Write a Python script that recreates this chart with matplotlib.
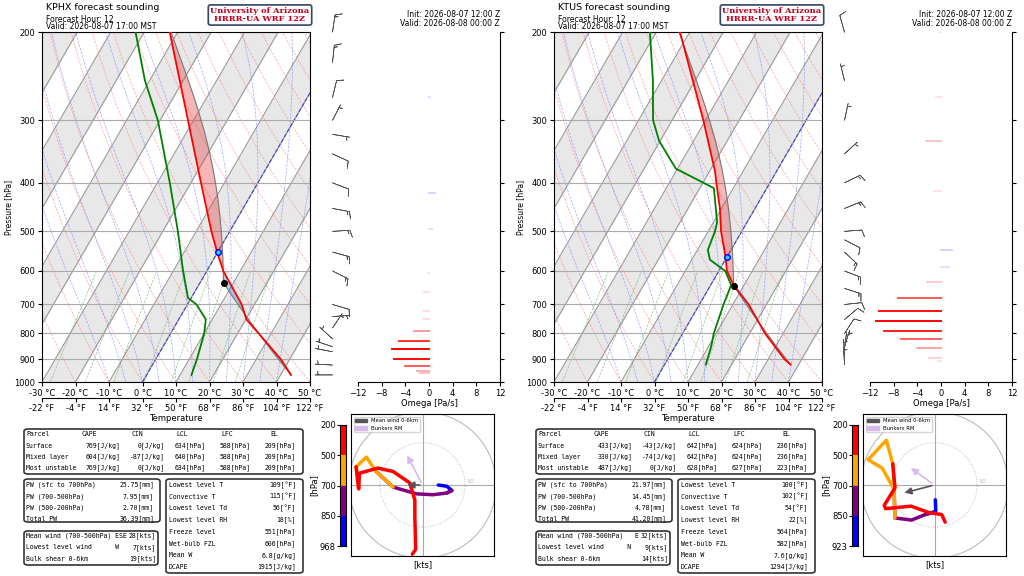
import numpy as np
import matplotlib
matplotlib.use("Agg")
import matplotlib.pyplot as plt
from matplotlib.patches import FancyBboxPatch, Circle, Patch

# ---------------- DATA ----------------
TITLE_L = "KPHX forecast sounding"
TITLE_R = "KTUS forecast sounding"
FH = "Forecast Hour: 12"
VALID_LOCAL = "Valid: 2026-08-07 17:00 MST"
INIT_Z = "Init: 2026-08-07 12:00 Z"
VALID_Z = "Valid: 2026-08-08 00:00 Z"

phx_p_t = [968, 900, 800, 750, 700, 600, 550, 500, 400, 300, 200]
phx_t = [43.1, 37.3, 26.3, 20.2, 16.2, 4.9, -0.2, -5.5, -17.0, -31.7, -52.4]
phx_p_td = [968, 900, 800, 750, 700, 680, 600, 500, 400, 300, 250, 200]
phx_td = [13.4, 12.3, 10.0, 8.1, 2.7, -0.9, -7.1, -15.5, -26.3, -40.7, -51.4, -62.6]
phx_lcl = 634
phx_frz = 551
phx_omega_p = [960, 952, 930, 900, 860, 830, 790, 750, 720, 660, 605, 495, 420, 270]
phx_omega = [-1.5, -2.0, -4.0, -6.0, -6.2, -5.0, -2.5, -0.9, -0.8, -0.8, -0.2, 0.5, 1.0, 0.1]
phx_wind_p = [968, 925, 870, 850, 820, 780, 740, 700, 600, 550, 500, 450, 400, 350, 320, 300, 270, 230, 200]
phx_u = [3.7, 5.7, 6.9, 5.7, 2.5, -1.4, -6.9, -10.9, -13.2, -15.6, -15.0, -14.8, -10.5, -6.9, -3.0, -1.8, -1.8, -1.6, -2.4]
phx_v = [0.0, -0.3, -1.3, -1.9, -2.3, -2.1, -0.5, 3.2, 6.6, 4.3, -0.9, 2.8, 4.0, 3.2, 0.5, -3.5, -7.4, -15.2, -16.4]
phx_mean = (-4.2, 0.0)
phx_bunk = (-3.9, 7.6)
phx_hbar = ["200", "500", "700", "850", "968"]
phx_parcel = [["Parcel", "CAPE", "CIN", "LCL", "LFC", "EL"],
              ["Surface", "769[J/kg]", "0[J/kg]", "634[hPa]", "588[hPa]", "209[hPa]"],
              ["Mixed layer", "604[J/kg]", "-87[J/kg]", "640[hPa]", "588[hPa]", "209[hPa]"],
              ["Most unstable", "769[J/kg]", "0[J/kg]", "634[hPa]", "588[hPa]", "209[hPa]"]]
phx_pw = [["PW (sfc to 700hPa)", "25.75[mm]"], ["PW (700-500hPa)", "7.95[mm]"],
          ["PW (500-200hPa)", "2.70[mm]"], ["Total PW", "36.39[mm]"]]
phx_wind_tab = [["Mean wind (700-500hPa) ESE", "28[kts]"], ["Lowest level wind      W", "7[kts]"],
                ["Bulk shear 0-6km", "19[kts]"]]
phx_misc = [["Lowest level T", "109[°F]"], ["Convective T", "115[°F]"], ["Lowest level Td", "56[°F]"],
            ["Lowest level RH", "18[%]"], ["Freeze level", "551[hPa]"], ["Wet-bulb FZL", "606[hPa]"],
            ["Mean W", "6.8[g/kg]"], ["DCAPE", "1915[J/kg]"]]

tus_p_t = [923, 900, 800, 700, 640, 600, 564, 500, 450, 400, 380, 300, 200]
tus_t = [37.6, 34.8, 24.6, 14.7, 6.8, 2.4, -0.3, -6.2, -10.5, -16.0, -18.3, -30.7, -52.9]
tus_p_td = [923, 850, 800, 700, 660, 640, 600, 570, 545, 500, 480, 410, 375, 330, 300, 250, 200]
tus_td = [12.3, 10.8, 9.3, 7.2, 6.5, 6.1, 1.9, -4.6, -6.9, -8.0, -8.9, -15.8, -30.5, -40.3, -45.7, -52.6, -61.9]
tus_lcl = 642
tus_frz = 564
tus_omega_p = [910, 895, 855, 820, 790, 755, 720, 680, 630, 590, 545, 415, 330, 270, 200]
tus_omega = [-0.5, -2.0, -4.0, -6.8, -9.7, -11.0, -10.4, -7.2, -2.3, 1.4, 1.9, -1.2, -2.6, -0.8, -0.3]
tus_wind_p = [923, 890, 860, 850, 800, 750, 700, 650, 600, 550, 520, 500, 450, 400, 350, 300, 250, 200]
tus_u = [0.2, 0.3, -0.8, -2.2, -5.4, -9.3, -9.5, -12.3, -15.6, -11.3, -9.8, -9.3, -11.8, -11.5, -5.5, -1.4, 1.7, 2.5]
tus_v = [-3.5, -6.2, -6.6, -7.0, -8.3, -7.8, -1.0, 4.0, 6.0, 10.6, 5.0, -0.7, -4.8, -5.6, -5.0, -6.5, -7.0, -8.8]
tus_mean = (-7.7, -2.0)
tus_bunk = (-6.1, 4.4)
tus_hbar = ["200", "500", "700", "850", "923"]
tus_parcel = [["Parcel", "CAPE", "CIN", "LCL", "LFC", "EL"],
              ["Surface", "433[J/kg]", "-43[J/kg]", "642[hPa]", "624[hPa]", "236[hPa]"],
              ["Mixed layer", "330[J/kg]", "-74[J/kg]", "642[hPa]", "624[hPa]", "236[hPa]"],
              ["Most unstable", "487[J/kg]", "0[J/kg]", "628[hPa]", "627[hPa]", "223[hPa]"]]
tus_pw = [["PW (sfc to 700hPa)", "21.97[mm]"], ["PW (700-500hPa)", "14.45[mm]"],
          ["PW (500-200hPa)", "4.78[mm]"], ["Total PW", "41.20[mm]"]]
tus_wind_tab = [["Mean wind (700-500hPa)   E", "32[kts]"], ["Lowest level wind      N", "9[kts]"],
                ["Bulk shear 0-6km", "14[kts]"]]
tus_misc = [["Lowest level T", "100[°F]"], ["Convective T", "102[°F]"], ["Lowest level Td", "54[°F]"],
            ["Lowest level RH", "22[%]"], ["Freeze level", "564[hPa]"], ["Wet-bulb FZL", "582[hPa]"],
            ["Mean W", "7.6[g/kg]"], ["DCAPE", "1294[J/kg]"]]

c_ticks = [-30, -20, -10, 0, 10, 20, 30, 40, 50]
f_labels = ["-22 °F", "-4 °F", "14 °F", "32 °F", "50 °F", "68 °F", "86 °F", "104 °F", "122 °F"]
p_ticks = [200, 300, 400, 500, 600, 700, 800, 900, 1000]
om_ticks = [-12, -8, -4, 0, 4, 8, 12]

# ---------------- helpers ----------------
K = 37.6
W, H = 1024, 576
fig = plt.figure(figsize=(10.24, 5.76), dpi=100)
MONO = "DejaVu Sans Mono"
TFS = 4.7


def pax(x0, y0, x1, y1):
    return fig.add_axes([x0 / W, 1 - y1 / H, (x1 - x0) / W, (y1 - y0) / H])


def sk(T, p):
    return np.asarray(T) + K * np.log(1000.0 / np.asarray(p))


def esat(T):
    return 6.112 * np.exp(17.67 * T / (T + 243.5))


def moist(T0, p0, p_end, n=300):
    ps = np.geomspace(p0, p_end, n)
    Ts = [T0]
    T = T0 + 273.15
    for i in range(1, n):
        p = ps[i - 1]
        rs = 0.622 * esat(T - 273.15) / (p - esat(T - 273.15))
        dTdp = (287.0 * T + 2.5e6 * rs) / (p * (1004.0 + 2.5e6 ** 2 * rs * 0.622 / (287.0 * T ** 2)))
        T += dTdp * (ps[i] - p)
        Ts.append(T - 273.15)
    return ps, np.array(Ts)


def hpx(px):
    return px / W


def draw_panel(ox, title, p_t, t, p_td, td, lcl, frz, om_p, om, w_p, u, v, mean, bunk, hbar,
               parcel, pw, windtab, misc):
    ax = pax(ox + 42, 32, ox + 310, 382)
    ax.set_yscale("log")
    ax.set_ylim(1000, 200)
    ax.set_xlim(-30, 50)
    pp = np.geomspace(1000, 200, 100)
    for T0 in range(-130, 60, 20):
        ax.fill_betweenx(pp, sk(T0, pp), sk(T0 + 10, pp), color="#e8e8e8", zorder=0, lw=0)
    for T0 in range(-130, 60, 10):
        ax.plot(sk(T0, pp), pp, color="#999999", lw=0.8, zorder=1)
    ax.plot(sk(0, pp), pp, color="#4444dd", lw=0.8, ls="--", zorder=2)
    for th in range(-30, 200, 10):
        T = (th + 273.15) * (pp / 1000) ** 0.286 - 273.15
        ax.plot(sk(T, pp), pp, color="#ff8080", lw=0.5, ls="--", alpha=0.7, zorder=1)
    for T0 in range(-10, 45, 5):
        ps_, Ts_ = moist(T0, 1000, 200, 120)
        ax.plot(sk(Ts_, ps_), ps_, color="#8080ff", lw=0.5, ls="--", alpha=0.7, zorder=1)
    pm = np.geomspace(1000, 600, 30)
    for wv in [0.4, 1, 2, 4, 7, 10, 16, 24]:
        e = wv * pm / (622 + wv)
        Td = 243.5 * np.log(e / 6.112) / (17.67 - np.log(e / 6.112))
        ax.plot(sk(Td, pm), pm, color="#60b060", lw=0.5, ls="--", alpha=0.7, zorder=1)
    psfc, tsfc = p_t[0], t[0]
    pd = np.geomspace(psfc, lcl, 40)
    Td_ = (tsfc + 273.15) * (pd / psfc) ** 0.286 - 273.15
    pm_, Tm_ = moist(Td_[-1], lcl, 200, 200)
    ppar = np.concatenate([pd, pm_[1:]])
    Tpar = np.concatenate([Td_, Tm_[1:]])
    Tenv = np.interp(np.log(ppar)[::-1], np.log(p_t)[::-1], np.array(t)[::-1])[::-1]
    xs_par, xs_env = sk(Tpar, ppar), sk(Tenv, ppar)
    ax.fill_betweenx(ppar, xs_env, xs_par, where=Tpar >= Tenv, color="#e03030", alpha=0.35, lw=0, zorder=3)
    ax.fill_betweenx(ppar, xs_env, xs_par, where=Tpar < Tenv, color="#3080c0", alpha=0.35, lw=0, zorder=3)
    ax.plot(xs_par, ppar, color="#777777", lw=0.8, zorder=4)
    ax.plot(sk(t, p_t), p_t, color="red", lw=1.3, zorder=5)
    ax.plot(sk(td, p_td), p_td, color="green", lw=1.3, zorder=5)
    ax.plot(sk(Td_[-1], lcl), lcl, "o", color="black", ms=4, zorder=6)
    ax.plot(sk(0, frz), frz, "o", mfc="#33ccff", mec="blue", ms=4, zorder=6)
    for pt in p_ticks:
        ax.axhline(pt, color="#aaaaaa", lw=0.8, zorder=2)
    ax.set_yticks(p_ticks)
    ax.set_yticklabels([str(x) for x in p_ticks], fontsize=6)
    ax.minorticks_off()
    ax.set_xticks(c_ticks)
    ax.set_xticklabels([f"{c} °C" for c in c_ticks], fontsize=6)
    ax.tick_params(pad=2, length=3)
    ax.set_ylabel("Pressure [hPa]", fontsize=5.5, labelpad=1)
    sec = ax.secondary_xaxis(-0.046)
    sec.set_xticks(c_ticks)
    sec.set_xticklabels(f_labels, fontsize=6)
    sec.tick_params(pad=1, length=3)
    sec.set_xlabel("Temperature", fontsize=6, labelpad=1)
    fig.text(hpx(ox + 46), 1 - 8 / H, title, fontsize=6.8, va="center")
    fig.text(hpx(ox + 46), 1 - 19 / H, FH, fontsize=5.5, va="center")
    fig.text(hpx(ox + 46), 1 - 26.5 / H, VALID_LOCAL, fontsize=5.5, va="center")
    fig.text(hpx(ox + 260), 1 - 15 / H, "University of Arizona\nHRRR-UA WRF 12Z", fontsize=6,
             family="DejaVu Serif", weight="bold", color="#c00020", ha="center", va="center",
             linespacing=1.0,
             bbox=dict(boxstyle="round,pad=0.25", fc="white", ec="#334466", lw=1.2))
    fig.text(hpx(ox + 500), 1 - 19 / H, INIT_Z + "\n" + VALID_Z, fontsize=5.5, ha="right",
             va="center", linespacing=1.0)
    bx = pax(ox + 305, 10, ox + 360, 382)
    bx.set_yscale("log")
    bx.set_ylim(1000, 180.6)
    bx.set_xlim(-1, 1)
    bx.barbs(np.zeros(len(w_p)), w_p, u, v, length=5, lw=0.5, color="#555555")
    bx.axis("off")
    ox_ = pax(ox + 358, 32, ox + 500, 382)
    ox_.set_yscale("log")
    ox_.set_ylim(1000, 200)
    ox_.set_xlim(-12, 12)
    om = np.array(om)
    mx = np.abs(om).max()
    for pv, o in zip(om_p, om):
        ox_.plot([0, o], [pv, pv], color="red" if o < 0 else "blue", lw=1.4,
                 alpha=float(np.clip(abs(o) / mx, 0.12, 1.0)))
    ox_.set_xticks(om_ticks)
    ox_.set_xticklabels([str(x).replace("-", "\u2212") for x in om_ticks], fontsize=6)
    ox_.tick_params(pad=2, length=3)
    ox_.set_xlabel("Omega [Pa/s]", fontsize=6, labelpad=1)
    ox_.set_yticks(p_ticks)
    ox_.minorticks_off()
    ox_.yaxis.tick_right()
    ox_.set_yticklabels([])
    ox_.spines["left"].set_visible(False)
    ox_.spines["top"].set_visible(False)

    def box(x0, y0, x1, y1):
        fig.patches.append(FancyBboxPatch((hpx(x0), 1 - y1 / H), (x1 - x0) / W, (y1 - y0) / H,
                                          boxstyle="round,pad=0,rounding_size=0.004",
                                          transform=fig.transFigure, fc="none", ec="#333333", lw=1.2))

    def txt(x, y, s, ha="left"):
        fig.text(hpx(x), 1 - y / H, s, fontsize=TFS, family=MONO, ha=ha, va="center")
    box(ox + 24, 429, ox + 303, 474)
    ys = [434, 445.5, 457, 468]
    hdr_x = [82, 131, 176, 221, 270]
    val_x = [120, 165, 206, 251, 296]
    for r, row in enumerate(parcel):
        y = ys[r]
        txt(ox + 26, y, row[0])
        for c in range(1, 6):
            if r == 0:
                txt(ox + hdr_x[c - 1], y, row[c])
            else:
                txt(ox + val_x[c - 1], y, row[c], ha="right")
    box(ox + 24, 479, ox + 160, 522)
    for r, (a, b) in enumerate(pw):
        y = 485 + r * 11.3
        txt(ox + 26, y, a)
        txt(ox + 154, y, b, ha="right")
    box(ox + 24, 531, ox + 158, 565)
    for r, (a, b) in enumerate(windtab):
        y = 536 + r * 11.3
        txt(ox + 26, y, a)
        txt(ox + 156, y, b, ha="right")
    box(ox + 166, 479, ox + 303, 573)
    for r, (a, b) in enumerate(misc):
        y = 485 + r * 11.7
        txt(ox + 169, y, a)
        txt(ox + 296, y, b, ha="right")
    cb = pax(ox + 340, 425, ox + 346, 546)
    cols = ["red", "orange", "purple", "blue"]
    for i, c in enumerate(cols):
        cb.axhspan(i, i + 1, color=c)
    cb.set_ylim(4, 0)
    cb.set_xlim(0, 1)
    cb.set_xticks([])
    cb.set_yticks(range(5))
    cb.set_yticklabels(hbar, fontsize=6)
    cb.tick_params(pad=1, length=2)
    cb.set_ylabel("[hPa]", fontsize=6, labelpad=1)
    hx = pax(ox + 351, 414, ox + 494, 556)
    hx.set_xlim(-16.8, 16.8)
    hx.set_ylim(-16.8, 16.8)
    hx.set_xticks([])
    hx.set_yticks([])
    hx.set_xlabel("[kts]", fontsize=6, labelpad=3)
    hx.axhline(0, color="#aaaaaa", lw=0.8)
    hx.axvline(0, color="#aaaaaa", lw=0.8)
    hx.add_patch(Circle((0, 0), 10, fill=False, ec="#bbbbbb", ls=":", lw=0.7))
    hx.add_patch(Circle((0, 0), 17.3, fill=False, ec="#bbbbbb", lw=0.8))
    hx.text(10.3, 0.4, "10", fontsize=4.5, color="#bbbbbb")
    wp = np.array(w_p)
    u = np.array(u)
    v = np.array(v)
    segs = [(wp >= 850), (wp <= 850) & (wp >= 700), (wp <= 700) & (wp >= 500), (wp <= 500)]
    segcols = ["blue", "purple", "orange", "red"]
    for m, c in zip(segs, segcols):
        idx = np.where(m)[0]
        if c != "blue":
            idx = np.arange(max(idx[0] - 1, 0), idx[-1] + 1)
        hx.plot(u[idx], v[idx], color=c, lw=2.5, solid_capstyle="round", zorder=3)
    hx.annotate("", xy=mean, xytext=(0, 0),
                arrowprops=dict(arrowstyle="-|>", color="#555555", lw=1.2, mutation_scale=10), zorder=5)
    hx.annotate("", xy=bunk, xytext=(0, 0),
                arrowprops=dict(arrowstyle="-|>", color="#d8b8f0", lw=1.2, mutation_scale=10), zorder=5)
    hx.legend(handles=[Patch(color="#555555", label="Mean wind 0-6km"),
                       Patch(color="#d8b8f0", label="Bunkers RM")],
              loc="upper left", fontsize=3.8, frameon=True, handlelength=2.2, borderpad=0.3)


draw_panel(0, TITLE_L, phx_p_t, phx_t, phx_p_td, phx_td, phx_lcl, phx_frz, phx_omega_p, phx_omega,
           phx_wind_p, phx_u, phx_v, phx_mean, phx_bunk, phx_hbar, phx_parcel, phx_pw, phx_wind_tab, phx_misc)
draw_panel(512, TITLE_R, tus_p_t, tus_t, tus_p_td, tus_td, tus_lcl, tus_frz, tus_omega_p, tus_omega,
           tus_wind_p, tus_u, tus_v, tus_mean, tus_bunk, tus_hbar, tus_parcel, tus_pw, tus_wind_tab, tus_misc)

fig.savefig("out.png", dpi=100)
